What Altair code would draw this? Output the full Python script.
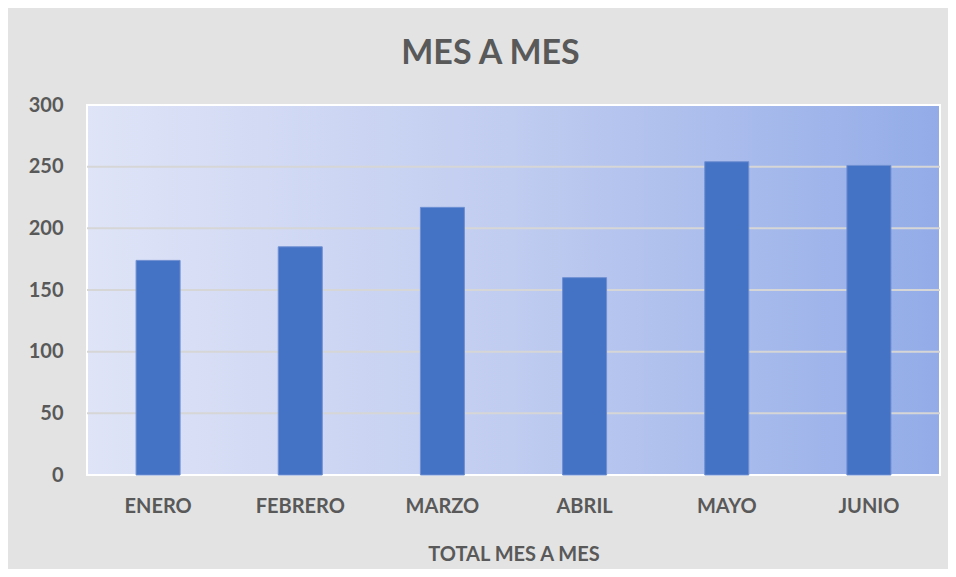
import altair as alt
import pandas as pd

months = ["ENERO", "FEBRERO", "MARZO", "ABRIL", "MAYO", "JUNIO"]
totals = [174, 185, 217, 160, 254, 251]
y_ticks = [0, 50, 100, 150, 200, 250, 300]
grid_vals = [50, 100, 150, 200, 250]

df = pd.DataFrame({"mes": months, "total": totals})
grid_df = pd.DataFrame({"v": grid_vals})
bg_df = pd.DataFrame({"k": [0]})

W, H = 853, 370
FONT = "Lato"
GRAY = "#595959"

grad = alt.LinearGradient(
    gradient="linear",
    stops=[
        alt.GradientStop(color="#dfe4f7", offset=0),
        alt.GradientStop(color="#c0ccf0", offset=0.5),
        alt.GradientStop(color="#93ace8", offset=1),
    ],
    x1=0, x2=1, y1=0, y2=0,
)

back = alt.Chart(bg_df).mark_rect(fill=grad, stroke="white", strokeWidth=2).encode(
    x=alt.value(0), x2=alt.value(W), y=alt.value(0), y2=alt.value(H)
)

yscale = alt.Scale(domain=[0, 300], nice=False, zero=True)
yaxis = alt.Axis(values=y_ticks, labelPadding=24, domain=False, ticks=False, grid=False,
                 labelFontSize=20)

grid = alt.Chart(grid_df).mark_rule(color="#d6d6d6", strokeWidth=2).encode(
    y=alt.Y("v:Q", scale=yscale, title=None, axis=yaxis)
)

bars = alt.Chart(df).mark_bar(size=44, color="#4472C4", stroke="#6e8fd2", strokeWidth=1).encode(
    x=alt.X(
        "mes:N",
        sort=months,
        title="TOTAL MES A MES",
        scale=alt.Scale(paddingInner=0, paddingOuter=0),
        axis=alt.Axis(
            labelAngle=0,
            labelPadding=21,
            titlePadding=28,
            domain=False,
            ticks=False,
            grid=False,
            labelFontSize=20,
            titleFontSize=20,
        ),
    ),
    y=alt.Y("total:Q", scale=yscale, title=None, axis=yaxis),
)

chart = (
    alt.layer(back, grid, bars)
    .properties(
        width=W,
        height=H,
        padding={"left": 79, "top": 97, "right": 8, "bottom": 94},
        autosize=alt.AutoSizeParams(type="none"),
        background="#e3e3e3",
        title=alt.TitleParams(
            "MES A MES",
            font=FONT,
            fontSize=34,
            fontWeight="bold",
            color=GRAY,
            anchor="middle",
            dx=-23,
            offset=24,
        ),
    )
    .configure_view(stroke=None)
    .configure_axis(
        labelFont=FONT,
        labelFontSize=19,
        labelFontWeight="bold",
        labelColor=GRAY,
        titleFont=FONT,
        titleFontSize=18,
        titleFontWeight="bold",
        titleColor=GRAY,
    )
)

chart.save("out.html", embed_options={"renderer": "svg", "actions": False})
